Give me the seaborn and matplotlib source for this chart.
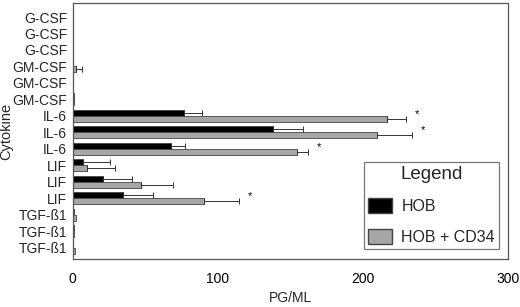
import numpy as np
import pandas as pd
import matplotlib
matplotlib.use("Agg")
import matplotlib.pyplot as plt
from matplotlib.patches import Patch
import seaborn as sns

cytokines = ["G-CSF", "G-CSF", "G-CSF", "GM-CSF", "GM-CSF", "GM-CSF",
             "IL-6", "IL-6", "IL-6", "LIF", "LIF", "LIF",
             "TGF-ß1", "TGF-ß1", "TGF-ß1"]
hob = [0, 0, 0, 0, 0, 0.5, 76.5, 138, 68, 7, 20.5, 34.5, 1, 0.5, 0]
hob_err = [0, 0, 0, 0, 0, 0, 12.5, 21, 9, 18.5, 20.5, 20.5, 0, 0, 0]
cd34 = [0, 0, 0, 2, 0, 1, 216.5, 210, 154.5, 10, 47, 90.5, 2, 0.5, 1.5]
cd34_err = [0, 0, 0, 4, 0, 0, 13.5, 24, 7.5, 19, 22, 24, 0, 0, 0]
significant = [False] * 6 + [True, True, True, False, False, True] + [False] * 3
groups = ["HOB", "HOB + CD34"]

rows = []
for i, c in enumerate(cytokines):
    rows.append({"row": i, "Cytokine": c, "group": groups[0], "value": hob[i]})
    rows.append({"row": i, "Cytokine": c, "group": groups[1], "value": cd34[i]})
df = pd.DataFrame(rows)

sns.set_style("white")
plt.rcParams["font.family"] = ["Liberation Sans", "DejaVu Sans"]

fig, ax = plt.subplots(figsize=(5.2, 3.07), dpi=100)
fig.subplots_adjust(left=0.140, right=0.977, bottom=0.156, top=0.990)

sns.barplot(data=df, x="value", y="row", hue="group", orient="h",
            order=list(range(len(cytokines))), hue_order=groups,
            palette=["#000000", "#a6a6a6"], width=0.72, errorbar=None,
            edgecolor="#444444", linewidth=0.6, legend=False, ax=ax)

# one-sided error bars
for cont, errs in zip(ax.containers, [hob_err, cd34_err]):
    for bar, e in zip(cont, errs):
        if e <= 0:
            continue
        yc = bar.get_y() + bar.get_height() / 2
        ax.errorbar(bar.get_width(), yc, xerr=[[0], [e]], fmt="none",
                    ecolor="#333333", elinewidth=0.7, capsize=2.5, capthick=0.7)

# significance marks
for i, sig in enumerate(significant):
    if sig:
        bar = ax.containers[1][i]
        xs = bar.get_width() + cd34_err[i] + 6
        ax.text(xs, bar.get_y() + bar.get_height() / 2 - 0.3, "*",
                ha="left", va="center", fontsize=8, color="black")

ax.set_xlim(0, 300)
ax.set_ylim(14.7, -0.85)
ax.set_xticks([0, 100, 200, 300])
ax.set_yticks(range(len(cytokines)))
ax.set_yticklabels(cytokines, fontsize=10)
ax.tick_params(axis="x", direction="in", length=5, width=0.8, pad=9,
               labelsize=10, colors="#333333", labelcolor="black")
ax.tick_params(axis="y", length=0, pad=4)
ax.set_xlabel("PG/ML", fontsize=10, labelpad=4)
ax.set_ylabel("Cytokine", fontsize=10.5)
ax.yaxis.set_label_coords(-0.136, 0.5)
for s in ax.spines.values():
    s.set_visible(True)
    s.set_color("#555555")
    s.set_linewidth(0.9)

handles = [Patch(facecolor="#000000", edgecolor="#444444"),
           Patch(facecolor="#a6a6a6", edgecolor="#444444")]
leg = ax.legend(handles, groups, title="Legend", loc="lower right",
                bbox_to_anchor=(0.979, 0.039), frameon=True, fancybox=False,
                shadow=False, edgecolor="#555555", fontsize=11.5,
                title_fontsize=13.5, handlelength=1.5, handleheight=1.1,
                labelspacing=0.95, borderpad=0.25, borderaxespad=0,
                handletextpad=0.6)
leg.get_frame().set_linewidth(0.9)

fig.savefig("out.png", dpi=100)
